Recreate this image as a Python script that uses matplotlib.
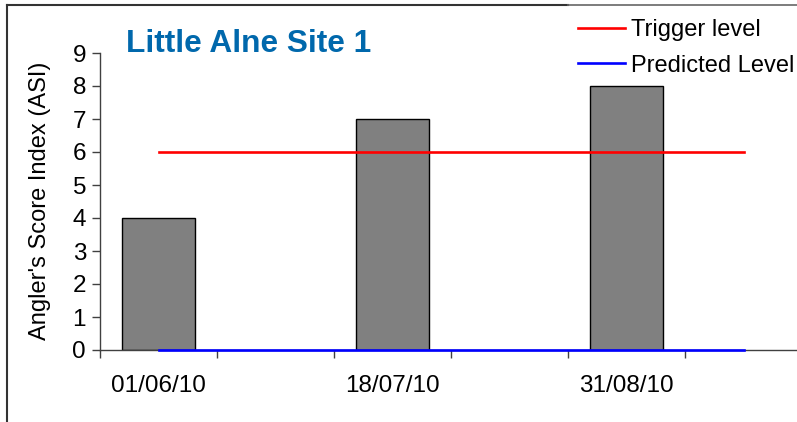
import numpy as np
import matplotlib
matplotlib.use('Agg')
import matplotlib.pyplot as plt
from matplotlib.lines import Line2D

plt.rcParams['font.family'] = ['Liberation Sans', 'DejaVu Sans']

# data
categories = ['01/06/10', '', '18/07/10', '', '31/08/10', '']
asi_scores = [4, np.nan, 7, np.nan, 8, np.nan]
trigger_level = [6, 6, 6, 6, 6, 6]
predicted_level = [0, 0, 0, 0, 0, 0]

W, H = 797, 422
fig = plt.figure(figsize=(W / 100, H / 100), dpi=100)

# plot area in pixel terms
ax = fig.add_axes([100 / W, (H - 350) / H, 702 / W, 297 / H])

x = np.arange(len(categories))
ax.bar(x, asi_scores, width=0.63, color='#808080', edgecolor='black', linewidth=1.0, zorder=2)
ax.plot(x, trigger_level, color='#ff0000', lw=1.9, label='Trigger level', zorder=4, clip_on=False)
ax.plot(x, predicted_level, color='#0000ff', lw=1.9, label='Predicted Level', zorder=4, clip_on=False)

ax.set_xlim(-0.5, 5.5)
ax.set_ylim(0, 9)
ax.set_yticks(range(10))

# ticks on category boundaries, labels on the categories
ax.set_xticks(np.arange(-0.5, 6, 1.0))
ax.set_xticklabels([])
ax.set_xticks(x, minor=True)
ax.set_xticklabels(categories, minor=True)
ax.tick_params(axis='x', which='minor', length=0, pad=18, labelsize=17.5)
ax.tick_params(axis='x', which='major', length=6, width=1, color='#404040', direction='out')
ax.tick_params(axis='y', length=6, width=1, color='#404040', direction='out', pad=4, labelsize=17.5)

for s in ['top', 'right']:
    ax.spines[s].set_visible(False)
for s in ['left', 'bottom']:
    ax.spines[s].set_color('#404040')
    ax.spines[s].set_linewidth(1.0)

fig.text(40 / W, (H - 340) / H, "Angler's Score Index (ASI)", rotation=90,
         ha='center', va='bottom', fontsize=17)

fig.text(126 / W, (H - 44) / H, 'Little Alne Site 1', color='#0068AC',
         fontsize=22.8, fontweight='bold', ha='left', va='center')

fig.legend(loc='upper left', bbox_to_anchor=(578 / W, (H - 19) / H), frameon=False,
           fontsize=17, handlelength=2.0, handletextpad=0.25, labelspacing=0.58,
           borderpad=0, borderaxespad=0)

# outer chart frame (left and top edges visible)
fig.add_artist(Line2D([7 / W, 7 / W], [0, (H - 5) / H], transform=fig.transFigure,
                      color='#333333', lw=1.5))
fig.add_artist(Line2D([7 / W, 568 / W], [(H - 5) / H, (H - 5) / H], transform=fig.transFigure,
                      color='#333333', lw=1.5))
fig.add_artist(Line2D([568 / W, 1], [(H - 5) / H, (H - 5) / H], transform=fig.transFigure,
                      color='#666666', lw=1.2))

fig.savefig('out.png', dpi=100)
